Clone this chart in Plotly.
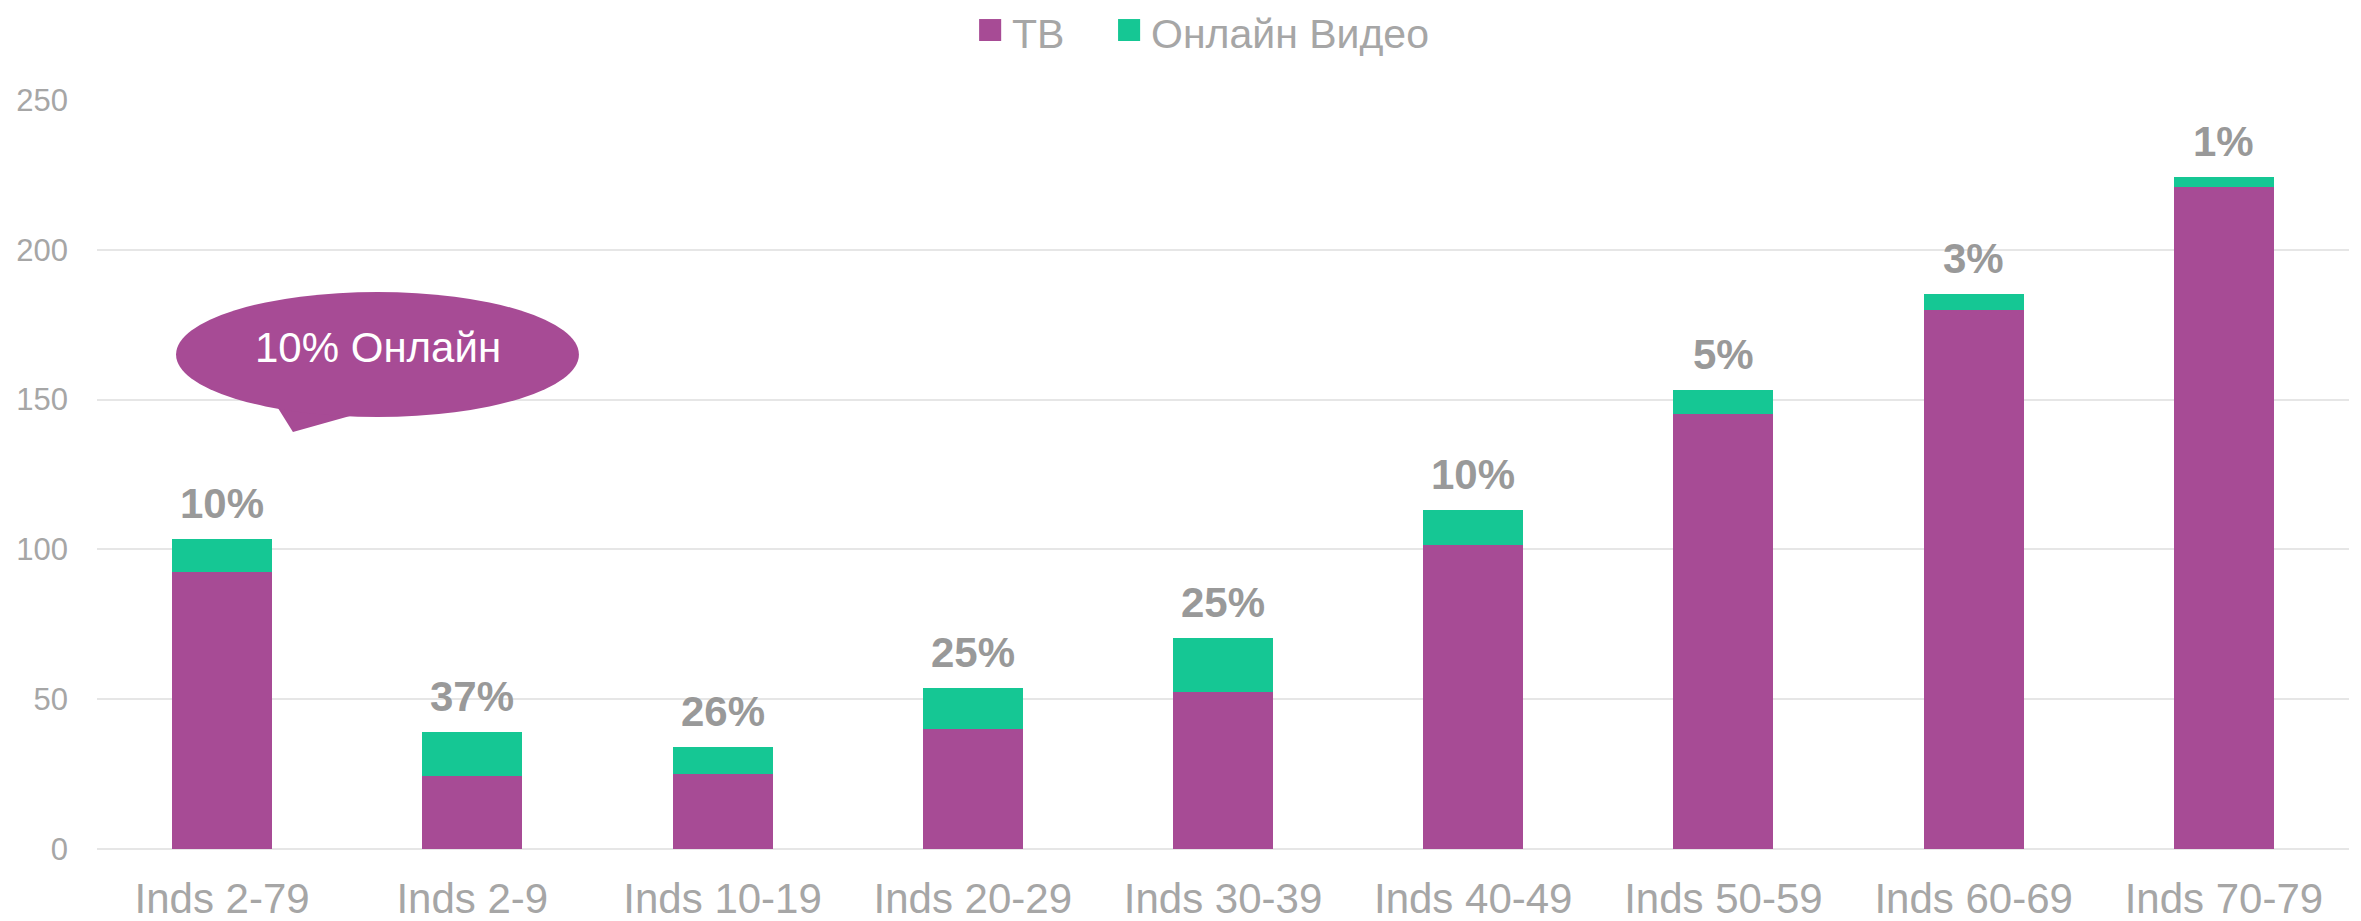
import plotly.graph_objects as go

CATEGORIES = ["Inds 2-79", "Inds 2-9", "Inds 10-19", "Inds 20-29", "Inds 30-39",
              "Inds 40-49", "Inds 50-59", "Inds 60-69", "Inds 70-79"]
TV = [92.6, 24.5, 25.1, 40.2, 52.3, 101.5, 145.2, 179.9, 220.9]
ONLINE = [10.9, 14.6, 9.1, 13.6, 18.1, 11.6, 8.1, 5.5, 3.3]
PCT_LABELS = ["10%", "37%", "26%", "25%", "25%", "10%", "5%", "3%", "1%"]
SERIES_NAMES = ["ТВ", "Онлайн Видео"]
CALLOUT_TEXT = "10% Онлайн"

TV_COLOR = "#A74B95"
ONLINE_COLOR = "#15C794"
GRAY = "#A6A6A6"
LABEL_GRAY = "#999999"
FONT = "Arial, Liberation Sans, sans-serif"

fig = go.Figure()
fig.add_trace(go.Bar(x=CATEGORIES, y=TV, name=SERIES_NAMES[0],
                     marker_color=TV_COLOR, marker_line_width=0))
fig.add_trace(go.Bar(x=CATEGORIES, y=ONLINE, name=SERIES_NAMES[1],
                     marker_color=ONLINE_COLOR, marker_line_width=0))

# процент онлайна над каждым столбцом
totals = [t + o for t, o in zip(TV, ONLINE)]
for cat, tot, lab in zip(CATEGORIES, totals, PCT_LABELS):
    fig.add_annotation(x=cat, y=tot, text=f"<b>{lab}</b>", showarrow=False,
                       yanchor="bottom", yshift=10,
                       font=dict(family=FONT, size=42, color=LABEL_GRAY))

# выноска "10% Онлайн"
fig.add_shape(type="path", xref="paper", yref="paper",
              path="M0.0759,0.6101 L0.0870,0.5567 L0.1345,0.5968 Z",
              fillcolor=TV_COLOR, line_width=0, layer="above")
fig.add_shape(type="circle", xref="paper", yref="paper",
              x0=0.0351, x1=0.2140, y0=0.5768, y1=0.7437,
              fillcolor=TV_COLOR, line_width=0, layer="above")
fig.add_annotation(xref="paper", yref="paper", x=0.1248, y=0.6702,
                   xanchor="center", yanchor="middle",
                   text=CALLOUT_TEXT, showarrow=False,
                   font=dict(family=FONT, size=42, color="white"))

# легенда вручную (крупные квадраты)
legend_items = [(SERIES_NAMES[0], TV_COLOR, 0.3917), (SERIES_NAMES[1], ONLINE_COLOR, 0.4534)]
for name, color, x0 in legend_items:
    fig.add_shape(type="rect", xref="paper", yref="paper",
                  x0=x0, x1=x0 + 0.0098, y0=1.0788, y1=1.1081,
                  fillcolor=color, line_width=0)
    fig.add_annotation(xref="paper", yref="paper", x=x0 + 0.0142, y=1.0881,
                       xanchor="left", yanchor="middle", text=name, showarrow=False,
                       borderpad=0, font=dict(family=FONT, size=41, color=GRAY))

# страница добавляет отступ 8px у body, поэтому холст чуть меньше окна
fig.update_layout(
    barmode="stack",
    bargap=0.6,
    width=2353, height=913,
    paper_bgcolor="white", plot_bgcolor="white",
    font=dict(family=FONT, color=GRAY),
    margin=dict(l=89, r=12, t=92, b=72),
    showlegend=False,
)
fig.update_xaxes(showgrid=False, showline=False, ticks="", automargin=False,
                 ticklabelstandoff=21, tickfont=dict(size=42, color=GRAY))
fig.update_yaxes(range=[0, 250], dtick=50, showgrid=True, gridcolor="#E6E6E6",
                 gridwidth=2, zeroline=True, zerolinecolor="#E6E6E6", zerolinewidth=2,
                 showline=False, ticks="", ticklabelstandoff=28, automargin=False,
                 tickfont=dict(size=31, color=GRAY))

fig.write_html("out.html")
